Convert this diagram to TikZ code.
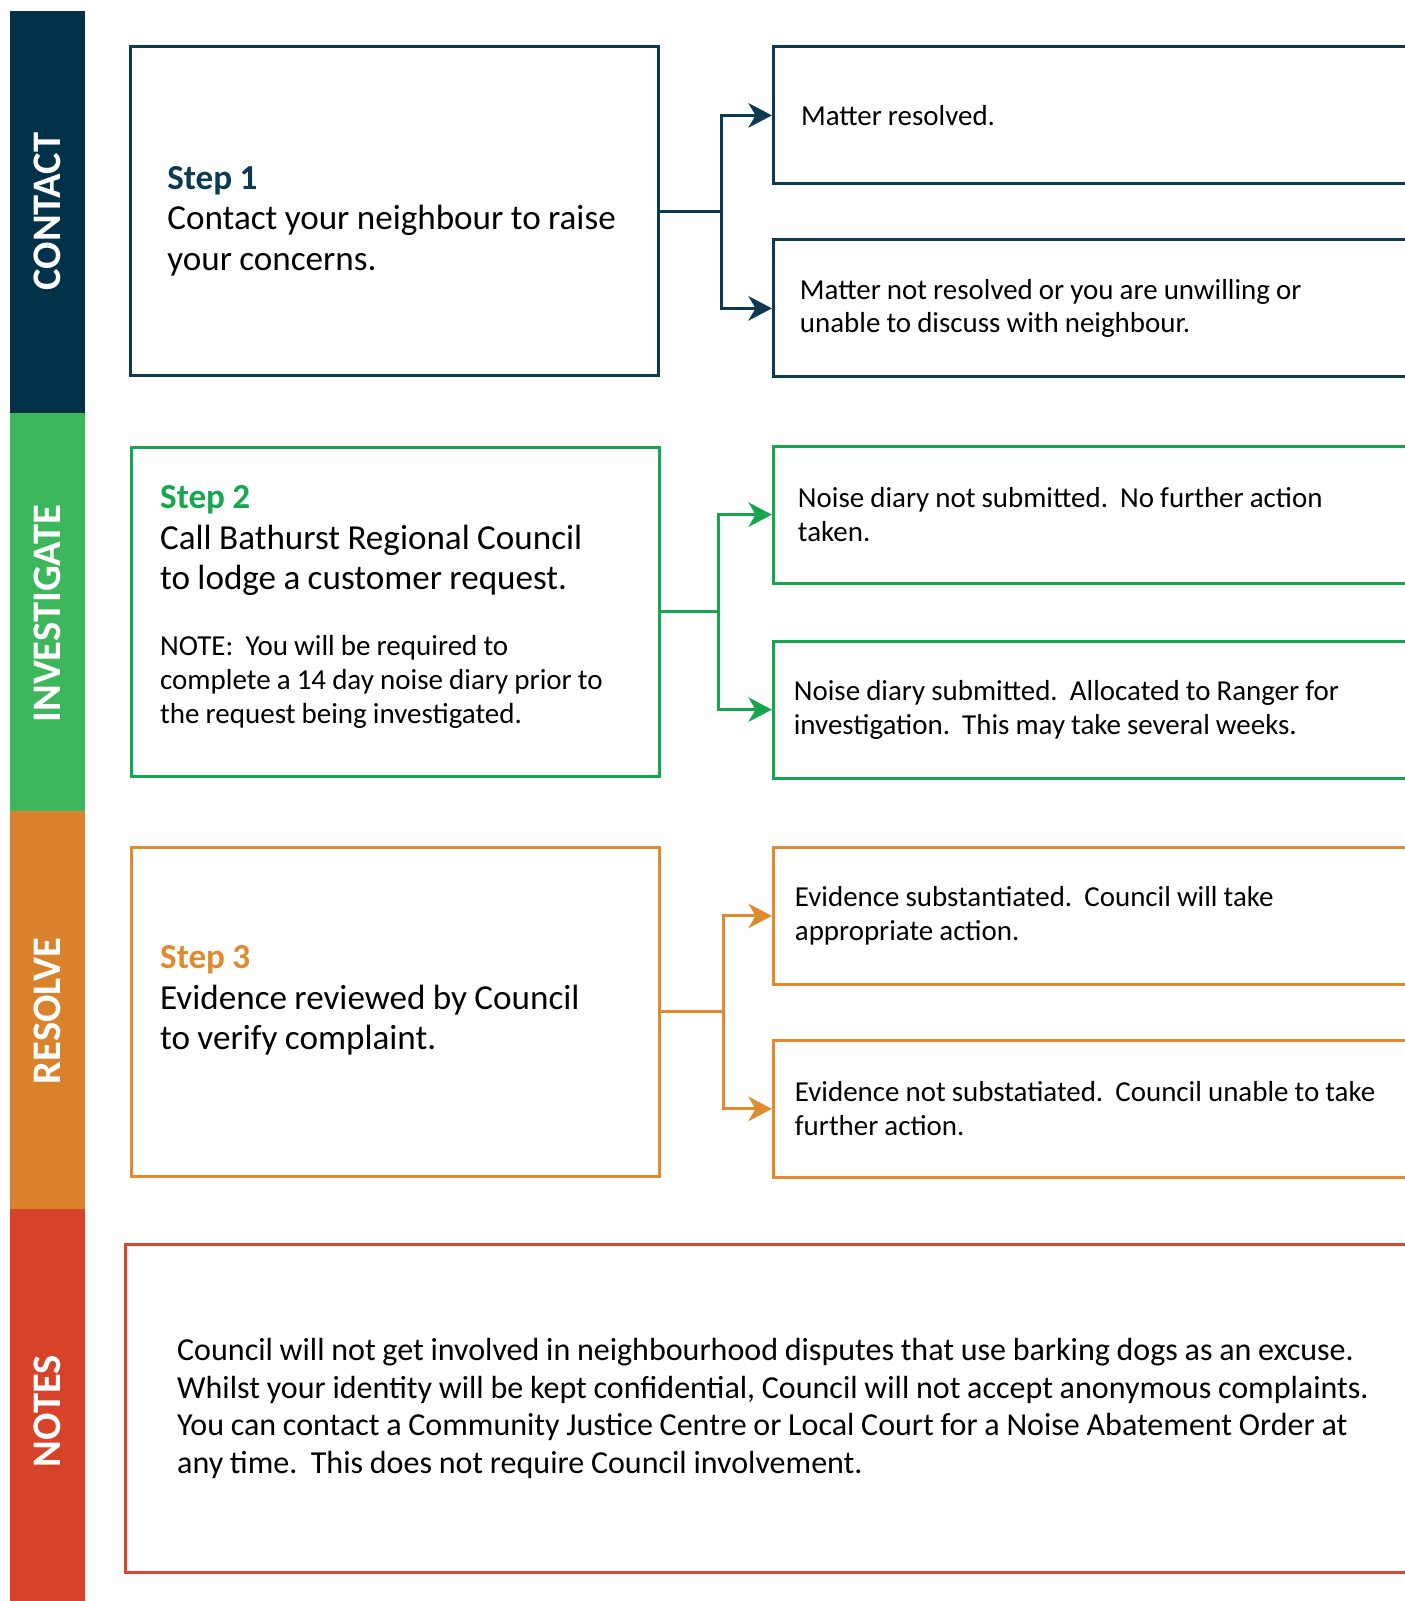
\documentclass[tikz,border=0pt]{standalone}
\usepackage{fontspec}
\setmainfont{Carlito}
\usetikzlibrary{arrows.meta,positioning}

\definecolor{navy}{HTML}{0B3A52}
\definecolor{navybar}{HTML}{02314A}
\definecolor{grn}{HTML}{17A64F}
\definecolor{grnbar}{HTML}{3DB75C}
\definecolor{orng}{HTML}{E08A2E}
\definecolor{orngbar}{HTML}{D9822B}
\definecolor{rd}{HTML}{DC4530}
\definecolor{rdbar}{HTML}{D84228}

\newcommand{\tightsp}{\spaceskip=0.21em plus 0.08em minus 0.04em\relax}
\newcommand{\stephead}[2]{{\color{#1}\bfseries #2}}
\newcommand{\pushdown}[1]{\par\vspace*{#1}}
\newcommand{\pushup}[1]{\par\vspace*{#1}\nointerlineskip\hbox{}}

\tikzset{
  barlabel/.style={rotate=90, text=white, font=\bfseries\fontsize{11.3}{12}\selectfont},
  stepbox/.style={draw=#1, line width=0.85pt, text width=4.61cm, inner xsep=0.28cm,
    minimum height=3.22cm, align=flush left, font=\fontsize{9.78}{11.3}\selectfont\tightsp},
  outbox/.style={draw=#1, line width=0.85pt, text width=5.9cm, inner xsep=0.22cm,
    minimum height=1.34cm, align=flush left, anchor=west, font=\fontsize{8.06}{9.4}\selectfont\tightsp},
  link/.style={draw=#1, line width=0.8pt},
  tip/.style={-{Stealth[length=2.3mm,width=2.4mm,inset=0.7mm]}},
}

\begin{document}
\begin{tikzpicture}[x=0.01cm,y=-0.01cm]
  \useasboundingbox (0,0) rectangle (1376,1568);
  % coloured side bars
  \foreach \name/\col/\top/\bot/\mid in {CONTACT/navybar/11/404/207,
      INVESTIGATE/grnbar/404/794/601, RESOLVE/orngbar/794/1184/990,
      NOTES/rdbar/1184/1568/1382} {
    \fill[\col] (10,\top) rectangle (83,\bot);
    \node[barlabel] (bar-\name) at (46.5,\mid) {\name};
  }

  % contact
  \node[stepbox=navy, text width=4.45cm, inner xsep=0.36cm] (step1) at (386.5,207)
    {\pushdown{0.02cm}\stephead{navy}{Step 1}\\ Contact your neighbour to raise\\ your concerns.};
  \node[outbox=navy, inner xsep=0.27cm] (res1a) at (756,113) {Matter resolved.};
  \node[outbox=navy, inner xsep=0.26cm] (res1b) at (756,302)
    {Matter not resolved or you are unwilling or\\ unable to discuss with neighbour.};
  \draw[link=navy] (step1.east) -- ++(60,0) coordinate (j1);
  \draw[link=navy, tip] (j1) |- (res1a.west);
  \draw[link=navy, tip] (j1) |- (res1b.west);

  % investigate
  \node[stepbox=grn] (step2) at (387.5,599)
    {\stephead{grn}{Step 2}\\ Call Bathurst Regional Council\\ to lodge a customer request.\par
     \vspace{9pt}{\fontsize{8.08}{9.4}\selectfont\tightsp NOTE:\ \ You will be required to\\
     complete a 14 day noise diary prior to\\ the request being investigated.\par}\pushup{0.09cm}};
  \node[outbox=grn, inner xsep=0.24cm] (res2a) at (756,504)
    {Noise diary not submitted.\ \ No further action\\ taken.};
  \node[outbox=grn, inner xsep=0.2cm] (res2b) at (756,695)
    {Noise diary submitted.\ \ Allocated to Ranger for\\ investigation.\ \ This may take several weeks.};
  \draw[link=grn] (step2.east) -- ++(56,0) coordinate (j2);
  \draw[link=grn, tip] (j2) |- (res2a.west);
  \draw[link=grn, tip] (j2) |- (res2b.west);

  % resolve
  \node[stepbox=orng] (step3) at (387.5,991)
    {\stephead{orng}{Step 3}\\ Evidence reviewed by Council\\ to verify complaint.\pushup{0.22cm}};
  \node[outbox=orng, inner xsep=0.21cm] (res3a) at (756,897)
    {Evidence substantiated.\ \ Council will take\\ appropriate action.};
  \node[outbox=orng, inner xsep=0.21cm] (res3b) at (756,1086)
    {Evidence not substatiated.\ \ Council unable to take\\ further action.};
  \draw[link=orng] (step3.east) -- ++(61,0) coordinate (j3);
  \draw[link=orng, tip] (j3) |- (res3a.west);
  \draw[link=orng, tip] (j3) |- (res3b.west);

  % notes
  \node[draw=rd, line width=0.85pt, anchor=west, text width=12cm, inner xsep=0.51cm,
    minimum height=3.21cm, align=flush left, font=\fontsize{8.92}{10.5}\selectfont\tightsp] (notes) at (121,1379.5)
    {Council will not get involved in neighbourhood disputes that use barking dogs as an excuse.\\
     Whilst your identity will be kept confidential, Council will not accept anonymous complaints.\\
     You can contact a Community Justice Centre or Local Court for a Noise Abatement Order at\\
     any time.\ \ This does not require Council involvement.};
\end{tikzpicture}
\end{document}
